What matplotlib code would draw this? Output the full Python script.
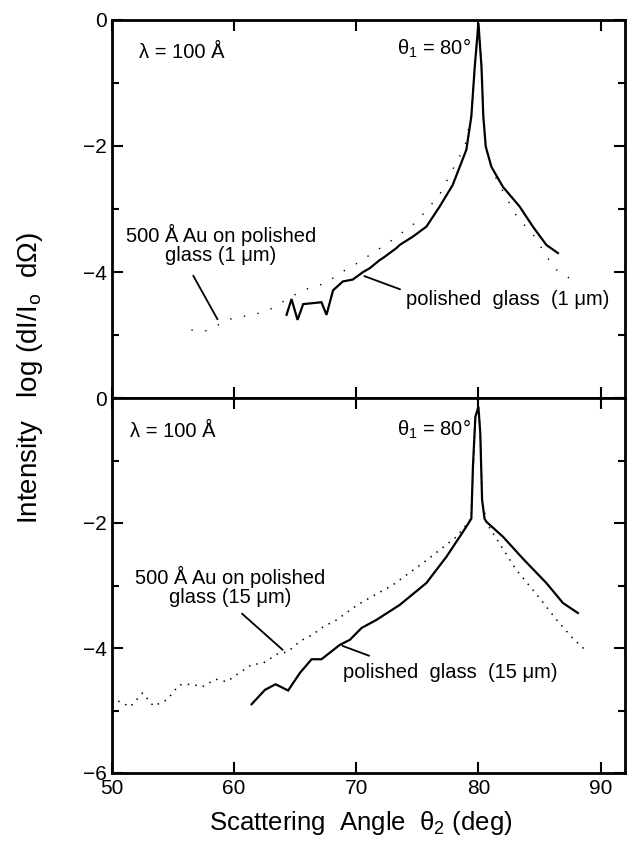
import matplotlib
matplotlib.use("Agg")
import matplotlib.pyplot as plt
from matplotlib.ticker import FixedLocator

plt.rcParams['font.family'] = ['Liberation Sans', 'DejaVu Sans']
plt.rcParams['mathtext.fontset'] = 'custom'
plt.rcParams['mathtext.rm'] = 'Liberation Sans'
plt.rcParams['mathtext.it'] = 'Liberation Sans'

# ---- data: top panel (1 um roughness) ----
top_glass_x = [64.29, 64.70, 65.19, 65.65, 67.15, 67.56, 68.10, 68.90, 69.71, 70.56,
               71.10, 71.92, 72.17, 73.29, 73.56, 74.62, 75.74, 76.83, 77.89, 79.01,
               79.42, 79.70, 80.00, 80.25, 80.40, 80.60, 81.06, 82.01, 83.37, 84.46,
               85.56, 86.51]
top_glass_y = [-4.68, -4.43, -4.76, -4.51, -4.48, -4.68, -4.29, -4.15, -4.12, -4.00,
               -3.94, -3.81, -3.78, -3.62, -3.57, -3.44, -3.28, -2.96, -2.62, -2.06,
               -1.53, -0.74, -0.05, -0.74, -1.53, -2.01, -2.33, -2.65, -2.96, -3.28,
               -3.57, -3.70]

top_au_x = [56.5, 57.6, 58.7, 59.6, 61.7, 62.7, 65.6, 67.6, 68.6, 69.6, 72.6, 74.9,
            76.8, 78.9, 79.4, 79.7, 80.0, 80.25, 80.4, 80.6, 81.5, 83.2, 84.4, 86.2,
            87.7]
top_au_y = [-4.92, -4.94, -4.84, -4.75, -4.67, -4.62, -4.29, -4.17, -4.02, -3.92,
            -3.54, -3.21, -2.78, -2.00, -1.53, -0.74, -0.05, -0.74, -1.53, -2.05,
            -2.54, -3.14, -3.38, -3.94, -4.13]

# ---- data: bottom panel (15 um roughness) ----
bot_glass_x = [61.43, 62.52, 63.39, 64.42, 65.38, 66.34, 67.15, 68.65, 69.47, 70.43,
               71.65, 73.56, 75.74, 77.38, 78.74, 79.42, 79.55, 79.75, 80.00, 80.15,
               80.30, 80.50, 80.65, 82.01, 83.64, 85.56, 86.92, 88.14]
bot_glass_y = [-4.90, -4.67, -4.58, -4.68, -4.40, -4.18, -4.18, -3.95, -3.87, -3.68,
               -3.55, -3.31, -2.96, -2.54, -2.14, -1.93, -1.10, -0.30, -0.14, -0.56,
               -1.63, -1.93, -1.98, -2.22, -2.57, -2.96, -3.28, -3.44]

bot_au_x = [50.5, 51.5, 52.5, 53.4, 54.5, 55.5, 56.5, 57.4, 58.5, 59.4, 60.4, 61.4,
            62.4, 63.5, 64.4, 65.4, 66.4, 67.3, 68.4, 69.3, 70.1, 70.9, 73.0, 75.8,
            78.2, 79.0, 79.4, 79.75, 80.0, 80.15, 80.3, 80.67, 81.7, 83.1, 85.0, 86.4,
            87.7, 88.9]
bot_au_y = [-4.85, -4.94, -4.72, -4.93, -4.83, -4.59, -4.58, -4.62, -4.50, -4.54,
            -4.40, -4.27, -4.24, -4.10, -4.06, -3.89, -3.79, -3.66, -3.55, -3.42,
            -3.31, -3.22, -2.99, -2.59, -2.22, -2.03, -1.93, -0.30, -0.14, -0.56,
            -1.63, -2.00, -2.32, -2.75, -3.20, -3.55, -3.84, -4.06]

x_ticks = [50, 60, 70, 80, 90]
y_ticks = [0, -2, -4, -6]
top_ylabels = ['0', '\u22122', '\u22124', '']
bot_ylabels = ['0', '\u22122', '\u22124', '\u22126']

W, H = 629, 852
fig = plt.figure(figsize=(W / 100, H / 100), dpi=100)
ax1 = fig.add_axes([112 / W, 1 - 398 / H, (625 - 112) / W, (398 - 20) / H])
ax2 = fig.add_axes([112 / W, 1 - 773 / H, (625 - 112) / W, (773 - 398) / H])

for ax in (ax1, ax2):
    ax.set_xlim(50, 92)
    ax.set_ylim(-6, 0)
    for s in ax.spines.values():
        s.set_linewidth(2.0)
    ax.xaxis.set_major_locator(FixedLocator(x_ticks))
    ax.yaxis.set_major_locator(FixedLocator(y_ticks))
    ax.yaxis.set_minor_locator(FixedLocator([-1, -3, -5]))
    ax.tick_params(which='both', direction='in', top=True, right=True,
                   width=1.5, labelsize=15, pad=4)
    ax.tick_params(which='major', length=8)
    ax.tick_params(which='minor', length=5)

ax1.set_yticklabels(top_ylabels)
ax1.set_xticklabels([])
ax2.set_yticklabels(bot_ylabels)
ax2.set_xticklabels([str(v) for v in x_ticks])

# curves
ax1.plot(top_glass_x, top_glass_y, color='black', lw=1.6, solid_joinstyle='miter')
ax1.plot(top_au_x, top_au_y, color='black', lw=1.0, linestyle=(0, (1, 9)))
ax2.plot(bot_glass_x, bot_glass_y, color='black', lw=1.6, solid_joinstyle='miter')
ax2.plot(bot_au_x, bot_au_y, color='black', lw=1.1, linestyle=(0, (1, 4)))

fs = 14.5
theta1 = '$\\mathrm{\\theta_1}$ = 80\u00b0'
# top panel labels
ax1.text(52.2, -0.52, '\u03bb = 100 \u00c5', fontsize=fs, ha='left', va='center')
ax1.text(73.3, -0.45, theta1, fontsize=fs, ha='left', va='center')
ax1.text(58.9, -3.57, '500 \u00c5 Au on polished\nglass (1 \u03bcm)', fontsize=fs,
         ha='center', va='center', linespacing=1.0)
ax1.annotate('', xy=(58.75, -4.79), xytext=(56.54, -4.02),
             arrowprops=dict(arrowstyle='-', color='black', lw=1.3))
ax1.text(74.1, -4.44, 'polished  glass  (1 \u03bcm)', fontsize=fs, ha='left', va='center')
ax1.annotate('', xy=(70.45, -4.05), xytext=(73.8, -4.29),
             arrowprops=dict(arrowstyle='-', color='black', lw=1.3))

# bottom panel labels
ax2.text(51.5, -0.54, '\u03bb = 100 \u00c5', fontsize=fs, ha='left', va='center')
ax2.text(73.3, -0.50, theta1, fontsize=fs, ha='left', va='center')
ax2.text(59.65, -3.01, '500 \u00c5 Au on polished\nglass (15 \u03bcm)', fontsize=fs,
         ha='center', va='center', linespacing=1.0)
ax2.annotate('', xy=(64.15, -4.06), xytext=(60.47, -3.42),
             arrowprops=dict(arrowstyle='-', color='black', lw=1.3))
ax2.text(68.9, -4.40, 'polished  glass  (15 \u03bcm)', fontsize=fs, ha='left', va='center')
ax2.annotate('', xy=(68.65, -3.95), xytext=(71.27, -4.14),
             arrowprops=dict(arrowstyle='-', color='black', lw=1.3))

# axis labels
fig.text(361 / W, 1 - 823 / H, 'Scattering  Angle  $\\mathrm{\\theta_2}$ (deg)', fontsize=18.5,
         ha='center', va='center')
fig.text(30 / W, 1 - 378 / H, 'Intensity   log (dI/I$_\\mathrm{o}$  d\u03a9)', fontsize=20,
         ha='center', va='center', rotation=90)

fig.savefig('out.png', dpi=100)
